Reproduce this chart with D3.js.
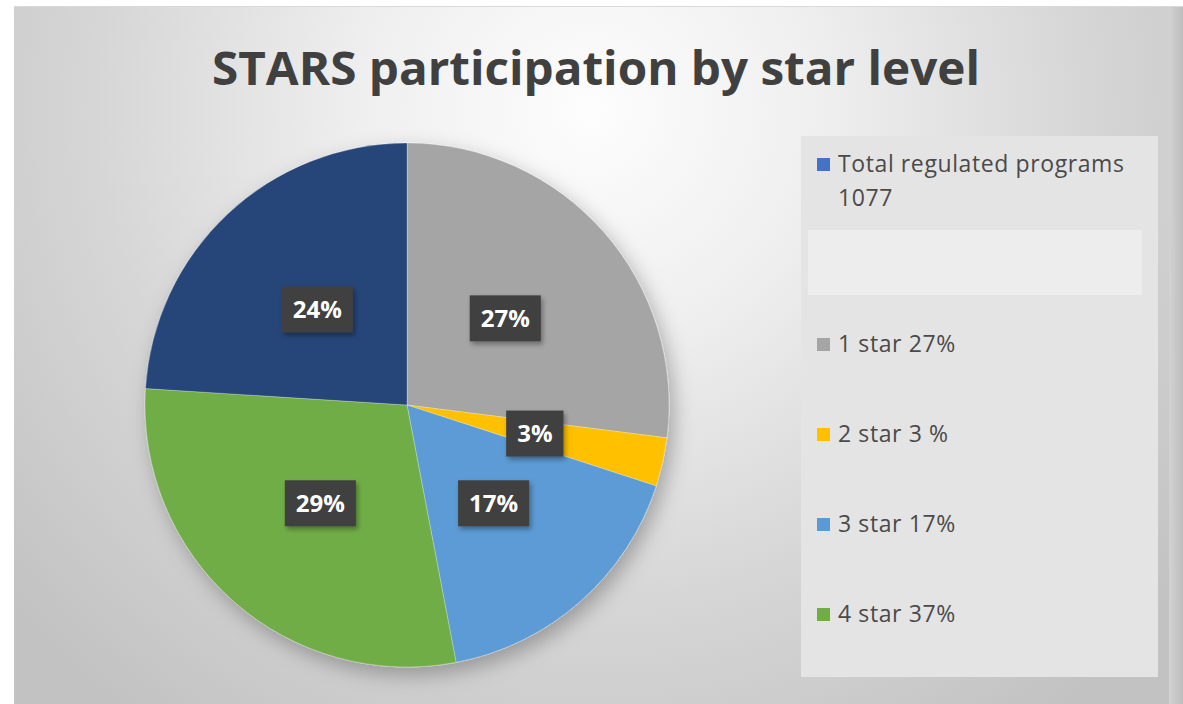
<!DOCTYPE html>
<html>
<head>
<meta charset="utf-8">
<script src="https://cdn.jsdelivr.net/npm/d3@7"></script>
<style>
	body { margin: 0; background: #fff; }
	text { font-family: 'Open Sans', 'Noto Sans', sans-serif; }
</style>
</head>
<body>
<svg class="svgChart"></svg>
<script>
// chart data
var chartTitle = 'STARS participation by star level';
var sliceNames = ['1 star', '2 star', '3 star', '4 star', 'unlisted'];
var sliceValues = [27, 3, 17, 29, 24];
var sliceColors = ['#a5a5a5', '#ffc000', '#5b9bd5', '#70ad47', '#264478'];
var legendLines = [['Total regulated programs', '1077'], [], ['1 star 27%'], ['2 star 3 %'], ['3 star 17%'], ['4 star 37%']];
var legendColors = ['#4472c4', null, '#a5a5a5', '#ffc000', '#5b9bd5', '#70ad47'];

var width = 1183, height = 704;
var cx = 407, cy = 405, radius = 262;

let svg = d3.select('svg.svgChart').attr('width', width).attr('height', height);
let defs = svg.append('defs');

// background gradient
let bg = defs.append('radialGradient').attr('id', 'bgGrad')
	.attr('gradientUnits', 'userSpaceOnUse')
	.attr('cx', 590).attr('cy', 110).attr('r', 760)
;
bg.selectAll('stop').data([[0, '#fdfdfd'], [0.3, '#efefef'], [0.65, '#d6d6d6'], [1, '#c2c2c2']]).join('stop')
	.attr('offset', d => d[0]).attr('stop-color', d => d[1])
;
let edge = defs.append('linearGradient').attr('id', 'edgeGrad');
edge.append('stop').attr('offset', 0).attr('stop-color', '#d2d2d2');
edge.append('stop').attr('offset', 1).attr('stop-color', '#bdbdbd');

let shadow = defs.append('filter').attr('id', 'pieShadow')
	.attr('x', '-30%').attr('y', '-30%').attr('width', '160%').attr('height', '160%');
shadow.append('feDropShadow').attr('dx', 5).attr('dy', 8).attr('stdDeviation', 10)
	.attr('flood-color', '#000').attr('flood-opacity', 0.28);
let boxShadow = defs.append('filter').attr('id', 'boxShadow')
	.attr('x', '-30%').attr('y', '-30%').attr('width', '160%').attr('height', '160%');
boxShadow.append('feDropShadow').attr('dx', 2).attr('dy', 3).attr('stdDeviation', 2.5)
	.attr('flood-color', '#000').attr('flood-opacity', 0.35);

svg.append('rect').attr('x', 0).attr('y', 0).attr('width', width).attr('height', height).style('fill', '#ffffff');
svg.append('rect').attr('x', 14).attr('y', 6).attr('width', width - 14).attr('height', height - 6).style('fill', 'url(#bgGrad)');
svg.append('rect').attr('x', 1169).attr('y', 6).attr('width', 14).attr('height', height - 6).style('fill', 'url(#edgeGrad)');
svg.append('line').attr('x1', 14).attr('x2', width).attr('y1', 6.5).attr('y2', 6.5).style('stroke', '#d9d9d9');

// title
svg.append('text')
	.attr('x', 596).attr('y', 85)
	.attr('text-anchor', 'middle')
	.attr('textLength', 768).attr('lengthAdjust', 'spacingAndGlyphs')
	.style('font-size', '47px').style('font-weight', 'bold').style('fill', '#404040')
	.text(chartTitle)
;

// pie
let pie = d3.pie().sort(null).value(d => d);
let arcs = pie(sliceValues);
let arc = d3.arc().innerRadius(0).outerRadius(radius);
let labelArc = d3.arc().innerRadius(radius * 0.5).outerRadius(radius * 0.5);

let g = svg.append('g').attr('transform', 'translate(' + cx + ', ' + cy + ')');
g.append('g').attr('filter', 'url(#pieShadow)')
	.selectAll('path').data(arcs).join('path')
	.attr('d', arc)
	.style('fill', (d, i) => sliceColors[i])
	.style('stroke', 'rgba(255,255,255,0.35)').style('stroke-width', 0.8)
;

// data labels
let fmt = d3.format('.0%');
let total = d3.sum(sliceValues);
let labels = g.append('g').selectAll('g').data(arcs).join('g')
	.attr('transform', d => 'translate(' + labelArc.centroid(d) + ')')
;
labels.append('text')
	.attr('text-anchor', 'middle').attr('dy', '0.35em')
	.style('font-size', '24px').style('font-weight', 'bold').style('fill', '#ffffff')
	.text(d => fmt(d.data / total))
;
labels.each(function() {
	let t = d3.select(this).select('text');
	let w = t.node().getComputedTextLength();
	d3.select(this).insert('rect', 'text')
		.attr('x', -w / 2 - 11).attr('y', -23).attr('width', w + 22).attr('height', 46)
		.attr('filter', 'url(#boxShadow)')
		.style('fill', '#404040')
	;
});

// legend
svg.append('rect')
	.attr('x', 801).attr('y', 136).attr('width', 357).attr('height', 541)
	.style('fill', '#e4e4e4')
;
let legendY = d3.scaleLinear().domain([0, legendLines.length - 1]).range([172, 622]);
let items = svg.append('g').selectAll('g').data(legendLines).join('g')
	.attr('transform', (d, i) => 'translate(0, ' + legendY(i) + ')')
;
items.filter((d, i) => legendColors[i] !== null).append('rect')
	.attr('x', 817).attr('y', -14).attr('width', 13).attr('height', 13)
	.style('fill', d => legendColors[legendLines.indexOf(d)])
;
items.selectAll('text').data(d => d).join('text')
	.attr('x', 838).attr('y', (d, i) => i * 34)
	.style('font-size', '23px').style('letter-spacing', '0.6px').style('fill', '#4a4a4a')
	.text(d => d)
;
// blanked-out entry
svg.append('rect')
	.attr('x', 808).attr('y', 230).attr('width', 334).attr('height', 65)
	.style('fill', '#ededed')
;
</script>
</body>
</html>
